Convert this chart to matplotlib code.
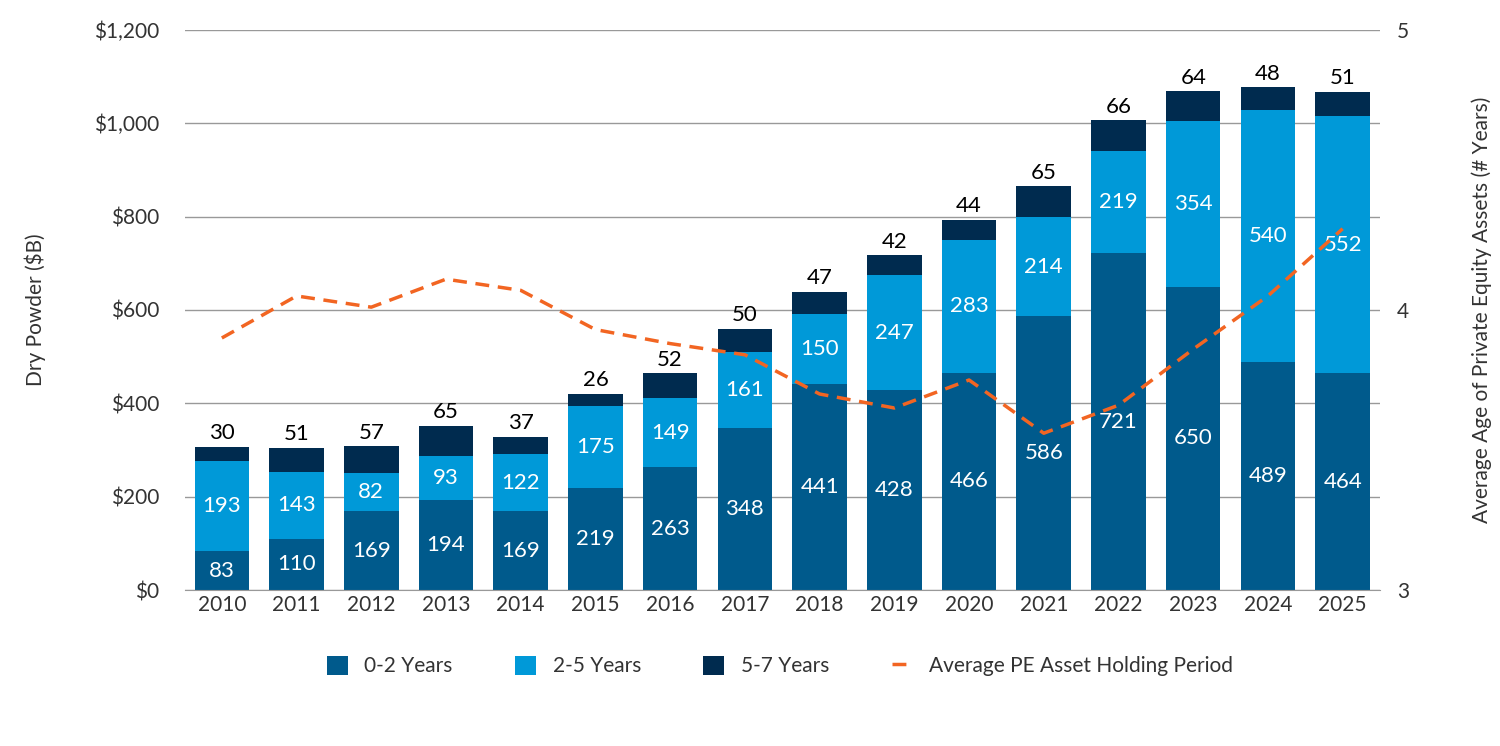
import matplotlib
matplotlib.use("Agg")
import matplotlib.pyplot as plt
import numpy as np

plt.rcParams['font.family'] = ['Lato', 'DejaVu Sans']

years = [str(y) for y in range(2010, 2026)]
y02 = [83, 110, 169, 194, 169, 219, 263, 348, 441, 428, 466, 586, 721, 650, 489, 464]
y25 = [193, 143, 82, 93, 122, 175, 149, 161, 150, 247, 283, 214, 219, 354, 540, 552]
y57 = [30, 51, 57, 65, 37, 26, 52, 50, 47, 42, 44, 65, 66, 64, 48, 51]
holding = [3.9, 4.05, 4.01, 4.11, 4.07, 3.93, 3.88, 3.84, 3.70, 3.65, 3.75, 3.56, 3.66, 3.86, 4.05, 4.29]

c1, c2, c3, co = '#005a8c', '#0099d8', '#002b4f', '#f26522'

fig = plt.figure(figsize=(15, 7.46), dpi=100)
ax = fig.add_axes([0.123, 0.209, 0.797, 0.751])
x = np.arange(len(years))
w = 0.73
b1 = ax.bar(x, y02, w, color=c1, label='0-2 Years', zorder=2)
b2 = ax.bar(x, y25, w, bottom=y02, color=c2, label='2-5 Years', zorder=2)
bot3 = np.array(y02) + np.array(y25)
b3 = ax.bar(x, y57, w, bottom=bot3, color=c3, label='5-7 Years', zorder=2)
for i in x:
    ax.text(i, y02[i] / 2, str(y02[i]), ha='center', va='center', color='white', fontsize=16, zorder=3)
    ax.text(i, y02[i] + y25[i] / 2, str(y25[i]), ha='center', va='center', color='white', fontsize=16, zorder=3)
    ax.text(i, bot3[i] + y57[i] + 8, str(y57[i]), ha='center', va='bottom', color='black', fontsize=16, zorder=3)

ax.set_ylim(0, 1200)
ax.set_xlim(-0.5, len(years) - 0.5)
ax.set_yticks(range(0, 1201, 200))
ax.set_yticklabels([f'${v:,}' for v in range(0, 1201, 200)])
ax.set_xticks(x)
ax.set_xticklabels(years)
ax.grid(axis='y', color='#999999', lw=1, zorder=0)
for s in ax.spines.values():
    s.set_visible(False)
ax.spines['bottom'].set_visible(True)
ax.spines['bottom'].set_color('#999999')
ax.tick_params(length=0, labelsize=15, colors='#333333')
ax.tick_params(axis='y', pad=18)
ax.set_ylabel('Dry Powder ($B)', fontsize=15, color='#333333', labelpad=35)

ax2 = ax.twinx()
ax2.plot(x, holding, color=co, lw=2.5, ls=(0, (4, 2.5)), label='Average PE Asset Holding Period', zorder=4)
ax2.set_ylim(3, 5)
ax2.set_yticks([3, 4, 5])
for s in ax2.spines.values():
    s.set_visible(False)
ax2.tick_params(length=0, labelsize=15, colors='#333333', pad=12)
ax2.set_ylabel('Average Age of Private Equity Assets (# Years)', fontsize=15, color='#333333', labelpad=45)

h = [b1, b2, b3] + ax2.get_legend_handles_labels()[0]
l = ['0-2 Years', '2-5 Years', '5-7 Years', 'Average PE Asset Holding Period']
fig.legend(h, l, loc='center', bbox_to_anchor=(0.52, 0.107), ncol=4, frameon=False,
           fontsize=15, handlelength=1.0, handleheight=1.0, columnspacing=3, labelcolor='#333333')
fig.savefig('out.png')
